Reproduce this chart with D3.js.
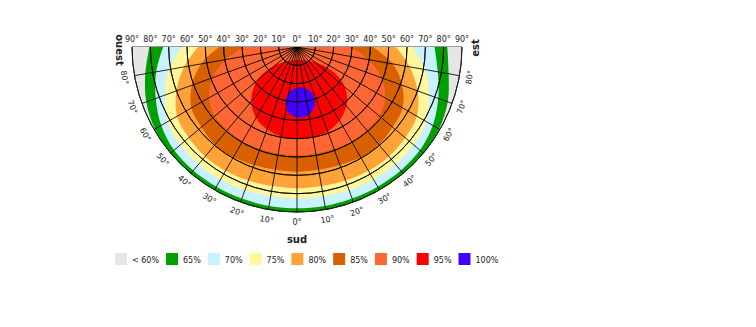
<!DOCTYPE html>
<html>
<head>
<meta charset="utf-8">
<script src="https://cdn.jsdelivr.net/npm/d3@7"></script>
<style>
  body { margin: 0; background: #fff; }
  svg { display: block; }
  text { font-family: "DejaVu Sans", Verdana, sans-serif; fill: #222; }
</style>
</head>
<body>
<svg id="chart" width="756" height="327"></svg>
<script>
// Azimuth of the panel (negative = ouest, 0 = sud, positive = est), degrees
const azimuths = [-90,-80,-70,-60,-50,-40,-30,-20,-10,0,10,20,30,40,50,60,70,80,90];

// Outer tilt limit (degrees) of each efficiency zone along every azimuth
const zone65 = [80.5,84,87.5,89.5,90,90,90,90,90,90,90,90,90,90,90,89.5,87.5,84,82];
const zone70 = [73,78,82,85.5,87.5,88,88,88,88,88,88,88,88,88,87.5,85.5,82,78,75];
const zone75 = [63,71,76.5,81.5,83,83.5,83.5,83,82.5,82.5,82.5,83,83.5,83.5,83,81.5,76.5,71,63];
const zone80 = [54,62.5,70,75.5,77,78,78,77.5,77,77,77,77.5,78,78,77,75.5,70,62.5,54];
const zone85 = [42.5,53,61,66.5,68,69.5,69.5,68.5,68,68,68,68.5,69.5,69.5,68,66.5,61,53,41.5];
const zone90 = [29.5,39.5,49,55.5,58.5,59,59.5,59,59,59,59,59,59.5,59,58.5,55.5,49,39.5,29.5];

// Closed outlines [azimuth, tilt] of the two innermost zones
const zone95 = [[44,39.5],[31,46],[17,49.5],[1,50],[-14,49],[-29,45],[-41,38],[-50,28],[-50,15.5],[9,7],[55,17.5],[53,30]];
const zone100 = [[18,32],[11.5,37],[2.5,38.5],[-6.5,36.5],[-12,31],[-9.5,25],[4,22],[17,25.5]];

// Legend
const legendLabels = ["< 60%","65%","70%","75%","80%","85%","90%","95%","100%"];
const legendColors = ["#e6e6e6","#00a000","#c8f2ff","#fff799","#ffa338","#d86000","#ff6633","#ff0000","#4400ff"];

// Grid / tick values
const tiltTicks = [10,20,30,40,50,60,70,80,90];
const topTickLabels = [90,80,70,60,50,40,30,20,10,0,10,20,30,40,50,60,70,80,90];
const azimuthTicks = [-80,-70,-60,-50,-40,-30,-20,-10,0,10,20,30,40,50,60,70,80];

const svg = d3.select("#chart");
const cx = 297, cy = 47, R = 165;

const r = d3.scaleLinear().domain([0, 90]).range([0, R]);
// angle measured clockwise from 12 o'clock, as d3's radial generators expect
const ang = d3.scaleLinear().domain([-90, 90]).range([1.5 * Math.PI, 0.5 * Math.PI]);
const colorOf = d3.scaleOrdinal().domain(legendLabels).range(legendColors);

const g = svg.append("g").attr("transform", `translate(${cx},${cy})`);

// half-disc clip
const halfDisc = d3.arc()({innerRadius: 0, outerRadius: R, startAngle: 0.5 * Math.PI, endAngle: 1.5 * Math.PI});
svg.append("defs").append("clipPath").attr("id", "half")
  .append("path").attr("transform", `translate(${cx},${cy})`).attr("d", halfDisc);

const inner = svg.append("g").attr("clip-path", "url(#half)")
  .append("g").attr("transform", `translate(${cx},${cy})`);

// background zone (< 60%)
inner.append("path").attr("d", halfDisc).attr("fill", colorOf("< 60%"));

// nested zones, from the horizontal panel outward
const zoneArea = d3.areaRadial()
  .angle((d, i) => ang(azimuths[i]))
  .innerRadius(0)
  .outerRadius(d => r(d))
  .curve(d3.curveCatmullRom);

[[zone65,"65%"],[zone70,"70%"],[zone75,"75%"],[zone80,"80%"],[zone85,"85%"],[zone90,"90%"]]
  .forEach(([vals, lab]) => {
    inner.append("path").attr("d", zoneArea(vals)).attr("fill", colorOf(lab));
  });

const blob = d3.lineRadial()
  .angle(d => ang(d[0]))
  .radius(d => r(d[1]))
  .curve(d3.curveCatmullRomClosed);

inner.append("path").attr("d", blob(zone95)).attr("fill", colorOf("95%"));
inner.append("path").attr("d", blob(zone100)).attr("fill", colorOf("100%"));

// grid: tilt circles
tiltTicks.forEach(t => {
  inner.append("path")
    .attr("d", d3.arc()({innerRadius: r(t), outerRadius: r(t), startAngle: 0.5 * Math.PI, endAngle: 1.5 * Math.PI}))
    .attr("fill", "none").attr("stroke", "#000").attr("stroke-width", 0.85);
});
// grid: azimuth rays
azimuthTicks.forEach(a => {
  const p = d3.pointRadial(ang(a), R);
  inner.append("line").attr("x1", 0).attr("y1", 0).attr("x2", p[0]).attr("y2", p[1])
    .attr("stroke", "#000").attr("stroke-width", 0.85);
});

// outline
g.append("path")
  .attr("d", d3.arc()({innerRadius: R, outerRadius: R, startAngle: 0.5 * Math.PI, endAngle: 1.5 * Math.PI}))
  .attr("fill", "none").attr("stroke", "#222").attr("stroke-width", 1);
g.append("line").attr("x1", -R).attr("x2", R).attr("y1", 0).attr("y2", 0)
  .attr("stroke", "#333").attr("stroke-width", 1);

// tilt labels along the top edge
topTickLabels.forEach((t, i) => {
  const x = (i < 9 ? -1 : 1) * r(t);
  g.append("text").attr("x", x).attr("y", -5)
    .attr("text-anchor", "middle").attr("font-size", 8).text(t + "°");
});

// azimuth labels around the arc
const labelR = R + 10;
azimuthTicks.forEach(a => {
  const p = d3.pointRadial(ang(a), labelR);
  g.append("text")
    .attr("transform", `translate(${p[0]},${p[1]}) rotate(${-a})`)
    .attr("text-anchor", "middle").attr("dy", "0.35em")
    .attr("font-size", 8).text(Math.abs(a) + "°");
});

// cardinal names
const pW = d3.pointRadial(ang(-90), R + 13);
g.append("text").attr("transform", `translate(${pW[0]},${pW[1] + 3}) rotate(90)`)
  .attr("text-anchor", "middle").attr("dy", "0.35em")
  .attr("font-size", 10).attr("font-weight", "bold").text("ouest");
const pE = d3.pointRadial(ang(90), R + 13);
g.append("text").attr("transform", `translate(${pE[0]},${pE[1] + 1}) rotate(-90)`)
  .attr("text-anchor", "middle").attr("dy", "0.35em")
  .attr("font-size", 10).attr("font-weight", "bold").text("est");
g.append("text").attr("x", 0).attr("y", R + 31)
  .attr("text-anchor", "middle").attr("font-size", 10).attr("font-weight", "bold").text("sud");

// legend
const leg = svg.append("g").attr("transform", "translate(115,253)");
let lx = 0;
legendLabels.forEach(lab => {
  leg.append("rect").attr("x", lx).attr("y", 0).attr("width", 12).attr("height", 12)
    .attr("fill", colorOf(lab));
  const t = leg.append("text").attr("x", lx + 17).attr("y", 10)
    .attr("font-size", 8).text(lab);
  lx += 17 + t.node().getComputedTextLength() + 7;
});
</script>
</body>
</html>
